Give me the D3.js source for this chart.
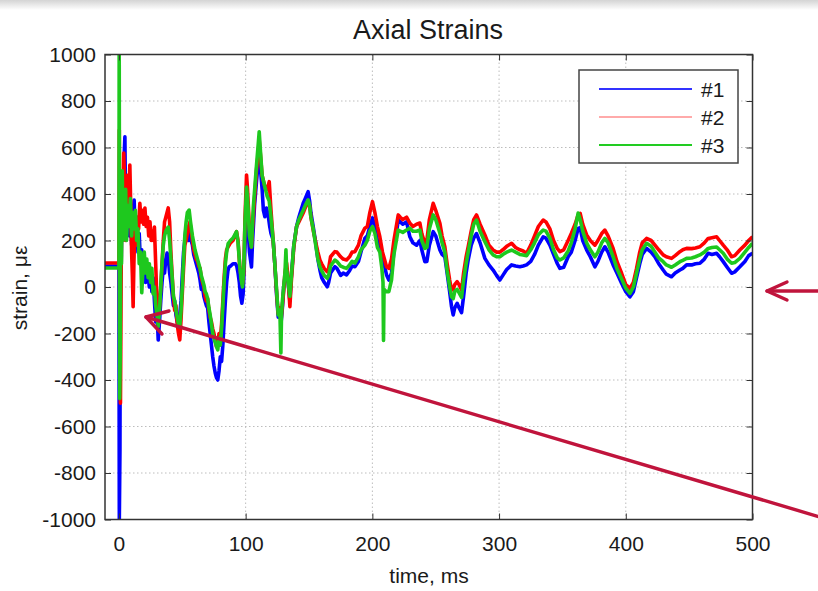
<!DOCTYPE html>
<html>
<head>
<meta charset="utf-8">
<script src="https://cdn.jsdelivr.net/npm/d3@7/dist/d3.min.js"></script>
<style>
  html, body { margin: 0; padding: 0; background: #fff; }
  svg { display: block; }
  text { font-family: "Liberation Sans", Arial, sans-serif; fill: #1a1a1a; }
</style>
</head>
<body>
<svg id="chart" width="818" height="591"></svg>
<script>
// ---------------- DATA ----------------
const chartTitle = "Axial Strains";
const xLabel = "time, ms";
const yLabel = "strain, \u03bc\u03b5";
const seriesNames = ["#1", "#2", "#3"];
const xTicks = [0, 100, 200, 300, 400, 500];
const yTicks = [-1000, -800, -600, -400, -200, 0, 200, 400, 600, 800, 1000];

// #1 (blue): [time ms, strain]
const series1 = [
  [-11, 90], [-0.5, 90], [0, 90], [0.3, -1000], [0.8, -700], [1.2, 300], [1.8, 100], [2.5, 400], [3.2, 200], [4, 550],
  [4.7, 646], [5.3, 300], [6, 450], [6.8, 250], [7.5, 380], [8.3, 220], [9, 330], [10, 180], [11, 300], [12, 374],
  [13, 200], [14, 300], [15, 150], [16, 230], [17, 100], [18, 160], [19, 40], [20, 120], [21, 20], [22, 100],
  [23, 50], [24, 0], [25, 80], [26, -20], [27, 40], [28, -60], [29, -150], [30, -100], [31, -228], [32, -150],
  [33, -60], [34, 20], [35, 80], [36, 60], [37, 120], [38, 146], [39, 120], [40, 60], [41, 20], [42, -30],
  [43, -80], [44, -60], [45, -120], [46, -150], [47, -170], [48, -120], [49, -60], [50, 50], [51, 150], [52, 200],
  [53, 258], [54, 230], [55, 200], [56, 240], [57, 200], [58, 180], [59, 140], [60, 120], [61, 100], [62, 80],
  [63, 60], [64, 30], [65, -10], [66, 0], [67, -40], [68, -60], [69, -80], [70, -90], [71, -150], [72, -200],
  [73, -250], [74, -300], [75, -340], [76, -370], [77, -390], [78, -400], [79, -360], [80, -300], [81, -320], [82, -250],
  [83, -150], [84, -60], [85, 20], [86, 70], [87, 87], [88, 90], [90, 100], [92, 100], [93, 90], [94, 60],
  [95, 20], [96, -40], [97, -70], [98, -30], [99, 100], [100, 250], [100.7, 344], [101.5, 300], [103, 150], [104.6, 86],
  [105.5, 200], [107, 350], [108.5, 450], [110, 540], [110.7, 582], [111.5, 520], [113, 420], [114, 330], [115.2, 302], [116.5, 340],
  [118, 300], [119, 260], [120, 230], [121.7, 202], [123, 100], [124.5, -40], [125.7, -130], [127, -100], [128, -150], [129, -90],
  [130, 0], [131, 40], [132.3, 50], [133.5, 20], [134.9, -60], [136, 40], [138, 180], [140.2, 260], [142, 300], [145.4, 360],
  [147, 380], [149.3, 410], [150.5, 370], [151.5, 320], [153.3, 260], [155, 200], [157, 120], [158.6, 73], [160, 40], [162, 20],
  [164.4, 1], [165.5, 20], [167, 60], [170.4, 87], [172, 80], [175, 50], [177, 60], [179.6, 52], [182, 70], [184, 90],
  [186.2, 87], [189, 110], [191, 150], [194.1, 210], [196, 220], [198, 260], [200.1, 297], [202, 260], [204, 200], [205.9, 180],
  [208, 130], [211.2, 52], [213, 30], [215.1, 60], [217, 150], [220.4, 288], [222, 280], [224, 270], [227, 280], [229.6, 216],
  [232, 190], [234.9, 180], [237.5, 200], [239, 160], [241.4, 109], [243, 110], [245, 180], [248, 238], [250, 220], [253.3, 159],
  [255, 140], [257.2, 130], [259, 60], [261, -20], [262.5, -85], [263.8, -120], [265, -90], [266.9, -70], [268.5, -90], [270.4, -110],
  [272, -40], [274, 60], [275.6, 116], [278, 180], [280, 210], [282.2, 230], [285, 190], [288.8, 123], [292, 95], [295.3, 73],
  [298, 50], [300.6, 30], [303, 50], [306, 75], [309.9, 95], [313, 90], [316.4, 87], [319, 90], [321.7, 95], [325, 110],
  [328, 140], [331, 180], [334.8, 216], [337, 210], [340.1, 180], [343, 140], [346, 100], [348, 80], [351, 85], [354.5, 130],
  [357, 150], [360, 200], [362.4, 252], [364, 255], [366, 200], [369.1, 160], [372, 130], [375.6, 87], [378, 110], [381, 150],
  [383.5, 173], [386, 150], [390, 95], [393, 60], [396.7, 16], [400, -20], [403.3, -42], [406, -20], [408.5, 40], [411, 100],
  [413, 140], [416.4, 166], [420, 150], [423, 130], [426, 100], [429.5, 73], [432, 55], [436.1, 44], [439, 60], [442.7, 73],
  [445, 80], [448, 95], [452, 95], [455, 100], [458.5, 102], [462, 120], [465, 145], [468, 140], [471.7, 145], [474, 130],
  [476.9, 109], [480, 85], [483.5, 59], [486, 65], [490, 87], [494, 110], [497, 135], [500, 145]
];

// #2 (red)
const series2 = [
  [-11, 103], [-0.5, 103], [0, 103], [0.3, 675], [0.7, -400], [1.2, -500], [1.7, 0], [2.2, 400], [3, 250], [3.8, 576],
  [4.5, 450], [5.2, 200], [6, 350], [6.8, 480], [7.5, 300], [8.6, 525], [9.3, 350], [10, 150], [10.6, 50], [11.2, -85],
  [11.8, 100], [12.5, 250], [13.5, 180], [14.5, 300], [15.5, 250], [16.5, 360], [17.5, 280], [18.5, 330], [19.5, 270], [20.5, 340],
  [21.5, 260], [22.5, 300], [23.5, 220], [24.5, 280], [25.5, 200], [26.5, 240], [27.2, 200], [28, 258], [29, 100], [30, -60],
  [31, -130], [32, -90], [33, 0], [34, 100], [35, 200], [36, 280], [37, 300], [38.9, 340], [40, 280], [41, 150],
  [42, 50], [43, -40], [44, -100], [45, -80], [46, -160], [47, -200], [48, -228], [49, -140], [50, -30], [51, 80],
  [52, 180], [53, 200], [54, 230], [55, 260], [56, 280], [57, 240], [58, 200], [59, 160], [60, 140], [61, 120],
  [62, 110], [63, 90], [64, 80], [65, 40], [66, 20], [67, 0], [68, -40], [69, -60], [70, -50], [71, -100],
  [72, -130], [73, -150], [74, -180], [75, -200], [76, -230], [77, -257], [78, -240], [79, -200], [80, -230], [81, -160],
  [82, -60], [83, 40], [84, 120], [85, 160], [86.2, 173], [88, 190], [90, 200], [92.8, 238], [94, 200], [95.4, 86],
  [96.5, 40], [97.5, 10], [98.5, 60], [99.5, 300], [100.7, 482], [101.5, 420], [103, 250], [104.6, 172], [105.5, 260], [107, 380],
  [108.5, 500], [110, 580], [110.7, 632], [111.5, 580], [113, 480], [115.2, 430], [117, 420], [118.6, 453], [120, 330], [121.7, 202],
  [123, 100], [124.5, -30], [125.7, -115], [127, -90], [128, -140], [129, -80], [130, -20], [131, 60], [132.3, 103], [133.5, 40],
  [134.9, -85], [136, 20], [138, 170], [140.2, 260], [142, 280], [145.4, 318], [147, 340], [149.3, 367], [150.5, 350], [151.5, 300],
  [153.3, 245], [155, 200], [157, 150], [158.6, 116], [160, 100], [162, 80], [164.4, 66], [165.5, 80], [167, 130], [170.4, 152],
  [172, 150], [175, 130], [177, 120], [179.6, 116], [182, 130], [184, 150], [186.2, 152], [189, 180], [191, 220], [194.1, 253],
  [196, 260], [198, 320], [200.1, 367], [202, 320], [204, 260], [205.9, 216], [208, 150], [211.2, 87], [213, 80], [215.1, 120],
  [217, 200], [220.4, 310], [222, 300], [224, 290], [227, 300], [229.6, 275], [232, 260], [234.9, 270], [237.5, 275], [239, 230],
  [241.4, 188], [243, 200], [245, 290], [248, 360], [250, 330], [253.3, 274], [255, 220], [257.2, 173], [259, 100], [261, 30],
  [262.5, -13], [263.8, -10], [265, 10], [266.9, 23], [268.5, 10], [270.4, -13], [272, 60], [274, 130], [275.6, 173], [278, 240],
  [280, 290], [282.2, 310], [285, 270], [288.8, 224], [292, 180], [295.3, 159], [298, 150], [300.6, 150], [303, 160], [306, 175],
  [309.9, 188], [313, 170], [316.4, 160], [319, 155], [321.7, 145], [325, 180], [328, 220], [331, 260], [334.8, 288], [337, 280],
  [340.1, 250], [343, 200], [346, 165], [348, 152], [351, 160], [354.5, 200], [357, 230], [360, 270], [362.4, 310], [364, 317],
  [366, 270], [369.1, 224], [372, 200], [375.6, 180], [378, 200], [381, 230], [383.5, 245], [386, 220], [390, 166], [393, 110],
  [396.7, 59], [400, 10], [403.3, -6], [406, 20], [408.5, 80], [411, 150], [413, 190], [416.4, 209], [420, 200], [423, 180],
  [426, 160], [429.5, 138], [432, 130], [436.1, 123], [439, 135], [442.7, 152], [445, 160], [448, 166], [452, 165], [455, 168],
  [458.5, 173], [462, 190], [465, 209], [468, 212], [471.7, 216], [474, 200], [476.9, 180], [480, 160], [483.5, 130], [486, 135],
  [490, 159], [494, 180], [497, 200], [500, 216]
];

// #3 (green)
const series3 = [
  [-11, 82], [-0.5, 82], [0, 82], [0.2, 1100], [0.6, -480], [1.0, -300], [1.4, 300], [2, 100], [2.6, 500], [3.2, 200],
  [4, 400], [4.6, 250], [5.3, 420], [6, 200], [7, 350], [8, 260], [9, 380], [10, 220], [11, 320], [12, 250],
  [13, 330], [14, 200], [15, 250], [16, 100], [17, 150], [18, -25], [19, 80], [20, 150], [21, 60], [22, 120],
  [23, 40], [24, 100], [25, 20], [26, 80], [27, -30], [28, 0], [29, -80], [30, -120], [31, -170], [32, -100],
  [33, 0], [34, 100], [35, 180], [36, 220], [37, 240], [38.9, 258], [40, 200], [41, 120], [42, 40], [43, -40],
  [44, -60], [45, -100], [46, -130], [47, -160], [48, -170], [49, -100], [50, 0], [51, 120], [52, 220], [53, 280],
  [54, 320], [55.4, 331], [56.5, 280], [58, 220], [59, 190], [60, 160], [61, 140], [62, 120], [63, 100], [64, 80],
  [65, 50], [66, 30], [67, 10], [68, -20], [69, -30], [70, -50], [71, -90], [72, -120], [73, -160], [74, -200],
  [75, -220], [76, -240], [77, -257], [78, -270], [79, -220], [80, -250], [81, -180], [82, -80], [83, 20], [84, 100],
  [85, 150], [86.2, 187], [88, 200], [90, 210], [92.8, 238], [94, 190], [95.4, 86], [96.5, 30], [97.5, 0], [98.5, 80],
  [99.5, 280], [100.7, 430], [101.5, 380], [103, 220], [104.6, 172], [106, 340], [108.5, 520], [110, 620], [110.7, 668], [111.5, 600],
  [113, 480], [115.2, 430], [117, 390], [118.6, 370], [120, 300], [121.7, 202], [123, 100], [124.5, -20], [125.7, -120], [127, -100],
  [127.8, -284], [128.3, -120], [129, -60], [130, 0], [131, 60], [131.8, 160], [132.3, 80], [133.5, 20], [134.9, -40], [136, 40],
  [138, 180], [140.2, 260], [142, 290], [145.4, 330], [147, 350], [149.3, 375], [150.5, 350], [151.5, 300], [153.3, 250], [155, 190],
  [157, 120], [158.6, 86], [160, 70], [162, 50], [164.4, 38], [165.5, 50], [167, 90], [170.4, 116], [172, 110], [175, 90],
  [177, 85], [179.6, 80], [182, 95], [184, 110], [186.2, 103], [189, 130], [191, 160], [194.1, 180], [196, 200], [198, 240],
  [200.1, 260], [202, 230], [204, 170], [205.9, 150], [207.5, 80], [208.4, 20], [208.8, -230], [209.2, -10], [211, -20], [213, -20],
  [215.1, 30], [217, 140], [220.4, 245], [222, 240], [224, 235], [227, 245], [229.6, 253], [232, 240], [234.9, 240], [237.5, 245],
  [239, 200], [241.4, 166], [243, 170], [245, 250], [248, 310], [250, 290], [253.3, 231], [255, 190], [257.2, 150], [259, 70],
  [261, 0], [262.5, -42], [263.8, -50], [265, -20], [266.9, -10], [268.5, -25], [270.4, -45], [272, 30], [274, 100], [275.6, 150],
  [278, 220], [280, 270], [282.2, 288], [285, 240], [288.8, 195], [292, 160], [295.3, 138], [298, 130], [300.6, 130], [303, 140],
  [306, 150], [309.9, 159], [313, 150], [316.4, 140], [319, 138], [321.7, 135], [325, 160], [328, 190], [331, 225], [334.8, 245],
  [337, 240], [340.1, 210], [343, 160], [346, 125], [348, 116], [351, 125], [354.5, 155], [357, 190], [360, 250], [362.4, 318],
  [364, 290], [366, 240], [369.1, 190], [372, 160], [375.6, 130], [378, 150], [381, 190], [383.5, 209], [386, 190], [390, 130],
  [393, 80], [396.7, 35], [400, -5], [403.3, -27], [406, 0], [408.5, 60], [411, 120], [413, 160], [416.4, 188], [420, 175],
  [423, 150], [426, 125], [429.5, 109], [432, 95], [436.1, 85], [439, 95], [442.7, 109], [445, 115], [448, 123], [452, 125],
  [455, 130], [458.5, 138], [462, 150], [465, 166], [468, 170], [471.7, 172], [474, 160], [476.9, 145], [480, 120], [483.5, 102],
  [486, 105], [490, 123], [494, 150], [497, 170], [500, 188]
];

// ---------------- STYLE / LAYOUT ----------------
const lineColors = ["#0000ff", "#ff0000", "#1ec81e"];
const legendColors = ["#3333ff", "#ffaaaa", "#22cc22"];
const annoColor = "#c0143c";

const svg = d3.select("#chart");
const W = 818, H = 591;
const plot = { left: 105, right: 752.5, top: 54.5, bottom: 519.5 };

// top gray strip
const defs = svg.append("defs");
const grad = defs.append("linearGradient").attr("id", "topg").attr("x1", 0).attr("x2", 0).attr("y1", 0).attr("y2", 1);
grad.append("stop").attr("offset", "0%").attr("stop-color", "#d4d4d4");
grad.append("stop").attr("offset", "100%").attr("stop-color", "#ffffff");
svg.append("rect").attr("x", 0).attr("y", 0).attr("width", W).attr("height", 10).attr("fill", "url(#topg)");

defs.append("clipPath").attr("id", "clip").append("rect")
  .attr("x", plot.left).attr("y", plot.top)
  .attr("width", plot.right - plot.left).attr("height", plot.bottom - plot.top);

const x = d3.scaleLinear().domain([-11, 500]).range([plot.left, plot.right]);
const y = d3.scaleLinear().domain([-1000, 1000]).range([plot.bottom, plot.top]);

// plot background
svg.append("rect").attr("x", plot.left).attr("y", plot.top)
  .attr("width", plot.right - plot.left).attr("height", plot.bottom - plot.top).attr("fill", "#fff");

// grid
const grid = svg.append("g").attr("stroke", "#bdbdbd").attr("stroke-width", 1).attr("stroke-dasharray", "1.5,2.5");
grid.selectAll(".gx").data(xTicks).join("line")
  .attr("x1", d => x(d)).attr("x2", d => x(d)).attr("y1", plot.top).attr("y2", plot.bottom);
grid.selectAll(".gy").data(yTicks).join("line")
  .attr("y1", d => y(d)).attr("y2", d => y(d)).attr("x1", plot.left).attr("x2", plot.right);

// series
const line = d3.line().x(d => x(d[0])).y(d => y(d[1]));
const gData = svg.append("g").attr("clip-path", "url(#clip)");
[series1, series2, series3].forEach((s, i) => {
  gData.append("path").datum(s)
    .attr("fill", "none")
    .attr("stroke", lineColors[i])
    .attr("stroke-width", 3.6)
    .attr("stroke-linejoin", "round")
    .attr("d", line);
});

// axes
const fontSize = 21;
const fmt = d => String(d);
const axB = svg.append("g").attr("transform", `translate(0,${plot.bottom})`)
  .call(d3.axisBottom(x).tickValues(xTicks).tickSize(-6).tickPadding(17).tickFormat(fmt));
const axT = svg.append("g").attr("transform", `translate(0,${plot.top})`)
  .call(d3.axisTop(x).tickValues(xTicks).tickSize(-6).tickFormat(""));
const axL = svg.append("g").attr("transform", `translate(${plot.left},0)`)
  .call(d3.axisLeft(y).tickValues(yTicks).tickSize(-6).tickPadding(9).tickFormat(fmt));
const axR = svg.append("g").attr("transform", `translate(${plot.right},0)`)
  .call(d3.axisRight(y).tickValues(yTicks).tickSize(-6).tickFormat(""));
[axB, axT, axL, axR].forEach(a => {
  a.select(".domain").remove();
  a.selectAll(".tick line").attr("stroke", "#333");
  a.selectAll("text").attr("font-size", fontSize).attr("font-family", "Liberation Sans, Arial, sans-serif").attr("fill", "#1a1a1a");
});

// frame
svg.append("rect").attr("x", plot.left).attr("y", plot.top)
  .attr("width", plot.right - plot.left).attr("height", plot.bottom - plot.top)
  .attr("fill", "none").attr("stroke", "#333").attr("stroke-width", 1.5);

// title & labels
svg.append("text").attr("x", 428).attr("y", 39).attr("text-anchor", "middle")
  .attr("font-size", 27).text(chartTitle);
svg.append("text").attr("x", 429).attr("y", 583).attr("text-anchor", "middle")
  .attr("font-size", 21).text(xLabel);
svg.append("text").attr("transform", "translate(27,288) rotate(-90)").attr("text-anchor", "middle")
  .attr("font-size", 21).text(yLabel);

// legend
const lg = svg.append("g");
lg.append("rect").attr("x", 579).attr("y", 70).attr("width", 159).attr("height", 93)
  .attr("fill", "#fff").attr("stroke", "#444").attr("stroke-width", 1.5);
seriesNames.forEach((n, i) => {
  const yy = 89 + i * 28;
  lg.append("line").attr("x1", 599).attr("x2", 692).attr("y1", yy).attr("y2", yy)
    .attr("stroke", legendColors[i]).attr("stroke-width", 2);
  lg.append("text").attr("x", 701).attr("y", yy + 7.5).attr("font-size", 21).text(n);
});

// annotation arrows
const an = svg.append("g").attr("stroke", annoColor).attr("stroke-width", 3.4)
  .attr("fill", "none").attr("stroke-linecap", "round").attr("stroke-linejoin", "round");
an.append("line").attr("x1", 820).attr("y1", 291).attr("x2", 767).attr("y2", 291);
an.append("polyline").attr("points", "787,282 767,291 787,300");
an.append("line").attr("x1", 820).attr("y1", 517).attr("x2", 146).attr("y2", 317);
an.append("polyline").attr("points", "169,311 146,317 162,334");
</script>
</body>
</html>
